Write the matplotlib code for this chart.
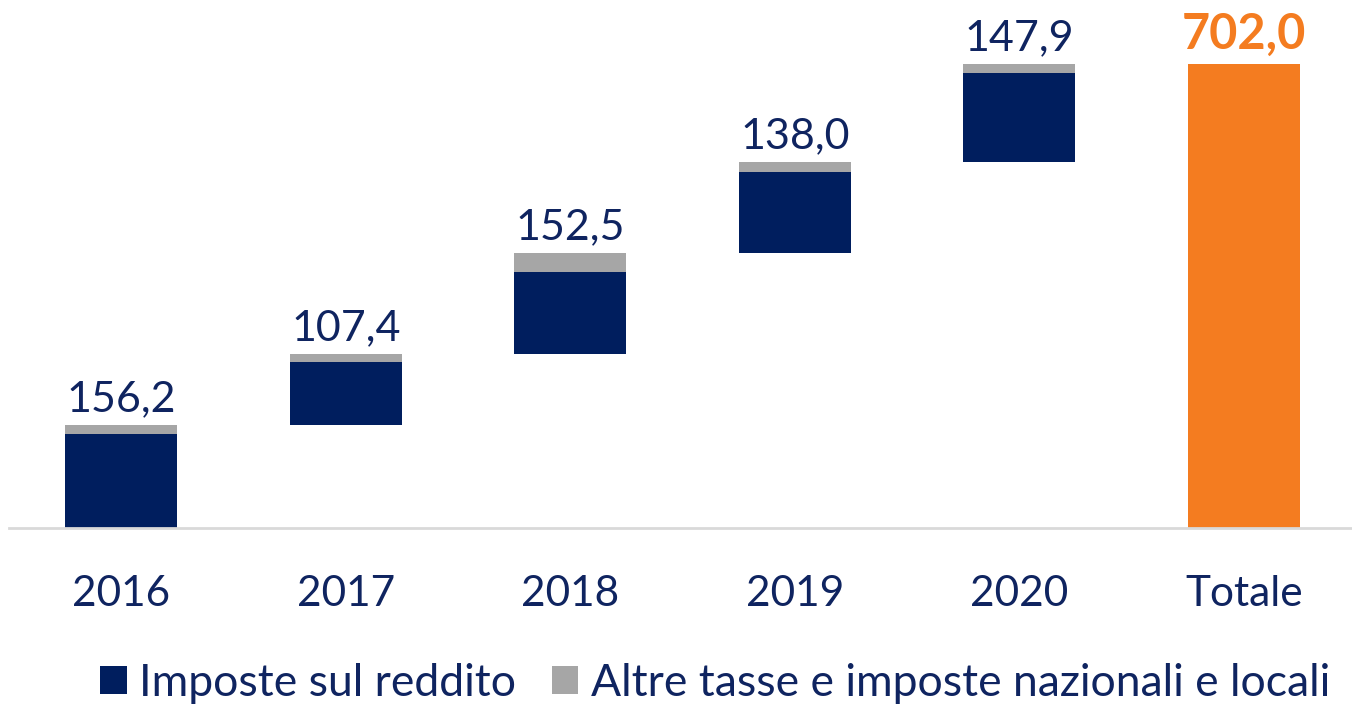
import matplotlib.pyplot as plt
import numpy as np

categories = ['2016', '2017', '2018', '2019', '2020', 'Totale']
imposte_reddito = [142.5, 95.4, 124.2, 123.0, 134.8]
altre_tasse = [13.7, 12.0, 28.3, 15.0, 13.1]
totals_label = ['156,2', '107,4', '152,5', '138,0', '147,9']
totale = 702.0

navy = '#001E5E'
grey = '#A6A6A6'
orange = '#F47C20'
text_col = '#0F2460'

plt.rcParams['font.family'] = ['Lato', 'DejaVu Sans']

fig = plt.figure(figsize=(13.52, 7.04), dpi=100)
ax = fig.add_axes([9 / 1352, 0.25, 1 - 9 / 1352 + 0.003, 0.75])

imp = np.array(imposte_reddito)
alt = np.array(altre_tasse)
step = imp + alt
bottoms = np.concatenate([[0], np.cumsum(step)[:-1]])
x = np.arange(len(step))

ax.bar(x, imp, bottom=bottoms, width=0.5, color=navy, label='Imposte sul reddito')
ax.bar(x, alt, bottom=bottoms + imp, width=0.5, color=grey,
       label='Altre tasse e imposte nazionali e locali')
ax.bar(len(step), totale, width=0.5, color=orange)

for xi, top, lab in zip(x, bottoms + step, totals_label):
    ax.annotate(lab, (xi, top), xytext=(0, 5), textcoords='offset points',
                ha='center', va='bottom', fontsize=31, color=text_col)
ax.annotate(f'{totale:.1f}'.replace('.', ','), (len(step), totale), xytext=(0, 5),
            textcoords='offset points', ha='center', va='bottom', fontsize=35,
            fontweight='bold', color=orange)

ax.set_xlim(-0.5, 5.5)
ax.set_ylim(0, totale * 528 / 464)
ax.set_xticks(range(len(categories)))
ax.set_xticklabels(categories, fontsize=30.5, color=text_col)
ax.tick_params(axis='x', length=0, pad=34)
ax.set_yticks([])
for s in ['top', 'right', 'left']:
    ax.spines[s].set_visible(False)
ax.spines['bottom'].set_color('#D9D9D9')
ax.spines['bottom'].set_linewidth(2)

leg = fig.legend(loc='lower left', bbox_to_anchor=(100 / 1352, 0.0), ncol=2,
                 frameon=False, fontsize=32, borderpad=0, borderaxespad=0,
                 handlelength=0.6, handleheight=0.6,
                 handletextpad=0.28, columnspacing=0.8)
for t in leg.get_texts():
    t.set_color(text_col)

fig.savefig('out.png', dpi=100)
